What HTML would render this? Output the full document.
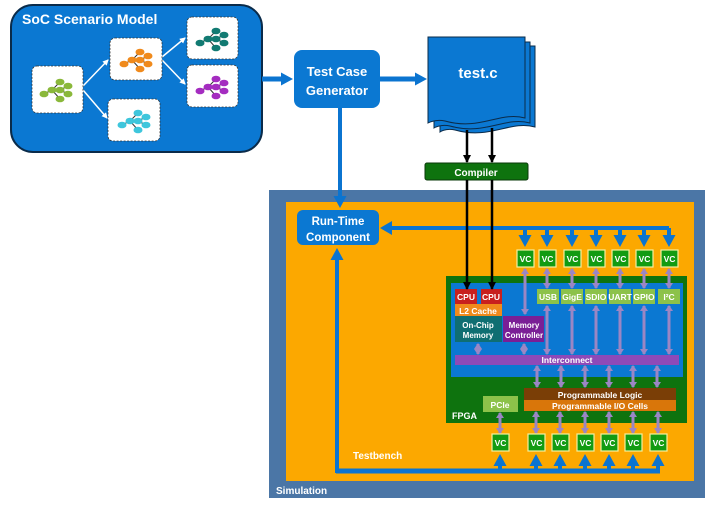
<!DOCTYPE html>
<html><head><meta charset="utf-8"><style>
html,body{margin:0;padding:0;background:#fff;}
svg{display:block;font-family:"Liberation Sans",sans-serif;font-weight:bold;}
</style></head><body>
<svg width="709" height="508" viewBox="0 0 709 508" xmlns="http://www.w3.org/2000/svg">
<defs>
<marker id="ab" markerUnits="userSpaceOnUse" markerWidth="12" markerHeight="13" refX="3" refY="6.5" orient="auto"><path d="M0,0 L12,6.5 L0,13 z" fill="#0b74d0"/></marker>
<marker id="aw" markerUnits="userSpaceOnUse" markerWidth="6" markerHeight="6" refX="5" refY="3" orient="auto"><path d="M0,0 L6,3 L0,6 z" fill="#fff"/></marker>
<marker id="ak" markerUnits="userSpaceOnUse" markerWidth="8" markerHeight="8" refX="7" refY="4" orient="auto"><path d="M0,0 L8,4 L0,8 z" fill="#000"/></marker>
<marker id="ap" markerUnits="userSpaceOnUse" markerWidth="6" markerHeight="8" refX="5" refY="4" orient="auto"><path d="M0,0 L6,4 L0,8 z" fill="#9b86c4"/></marker>
<marker id="ap0" markerUnits="userSpaceOnUse" markerWidth="6" markerHeight="8" refX="1" refY="4" orient="auto"><path d="M6,0 L0,4 L6,8 z" fill="#9b86c4"/></marker>
<g id="tree"><path d="M-12,4 L-4,0 L4,-8 M-4,0 L4,0 L12,-4 M4,0 L12,4 M-4,0 L4,9" stroke="#333" stroke-width="1" fill="none"/>
<ellipse cx="-12" cy="4" rx="4.5" ry="3.3"/><ellipse cx="-4" cy="0" rx="4.5" ry="3.3"/><ellipse cx="4" cy="-8" rx="4.5" ry="3.3"/><ellipse cx="4" cy="0" rx="4.5" ry="3.3"/><ellipse cx="12" cy="-4" rx="4.5" ry="3.3"/><ellipse cx="12" cy="4" rx="4.5" ry="3.3"/><ellipse cx="4" cy="9" rx="4.5" ry="3.3"/></g>
</defs>

<rect x="11" y="5" width="251" height="147" rx="22" fill="#0b78d2" stroke="#0a2b4a" stroke-width="2"/>
<text x="22" y="24" fill="#fff" font-size="14">SoC Scenario Model</text>
<g stroke="#fff" stroke-width="1.5" fill="none" marker-end="url(#aw)">
<line x1="83" y1="86" x2="108" y2="60"/><line x1="83" y1="90" x2="107" y2="118"/>
<line x1="162" y1="57" x2="185" y2="38"/><line x1="162" y1="60" x2="185" y2="84"/>
</g>
<g fill="#fff" stroke="#333" stroke-width="0.8" stroke-dasharray="2,1.5">
<rect x="32" y="66" width="51" height="47" rx="5"/><rect x="110" y="38" width="52" height="42" rx="5"/>
<rect x="108" y="99" width="52" height="42" rx="5"/><rect x="187" y="17" width="51" height="42" rx="5"/>
<rect x="187" y="65" width="51" height="42" rx="5"/></g>
<use href="#tree" x="56" y="90" fill="#8ab83a"/>
<use href="#tree" x="136" y="60" fill="#f08a1c"/>
<use href="#tree" x="134" y="121" fill="#3ec6dc"/>
<use href="#tree" x="212" y="39" fill="#117a72"/>
<use href="#tree" x="212" y="87" fill="#a42cc0"/>

<line x1="262" y1="79" x2="284" y2="79" stroke="#0b74d0" stroke-width="5" marker-end="url(#ab)"/>
<line x1="380" y1="79" x2="418" y2="79" stroke="#0b74d0" stroke-width="5" marker-end="url(#ab)"/>
<rect x="294" y="50" width="86" height="58" rx="8" fill="#0b78d2"/>
<text x="337" y="76" fill="#fff" font-size="13" text-anchor="middle">Test Case</text>
<text x="337" y="95" fill="#fff" font-size="13" text-anchor="middle">Generator</text>

<path d="M440,46 H535 V127 C510,120 490,140 455,130 C445,128 440,132 440,132 Z" fill="#0b78d2" stroke="#0a2b4a" stroke-width="1"/>
<path d="M434,42 H530 V123 C505,116 485,136 450,126 C440,124 434,128 434,128 Z" fill="#0b78d2" stroke="#0a2b4a" stroke-width="1"/>
<path d="M428,37 H525 V118 C500,111 480,131 445,121 C435,119 428,123 428,123 Z" fill="#0b78d2" stroke="#0a2b4a" stroke-width="1"/>
<text x="478" y="78" fill="#fff" font-size="15" text-anchor="middle">test.c</text>

<rect x="269" y="190" width="436" height="308" fill="#4b76a6"/>
<rect x="286" y="202" width="408" height="279" fill="#fca800"/>
<text x="276" y="494" fill="#fff" font-size="10">Simulation</text>
<text x="353" y="459" fill="#fff" font-size="10">Testbench</text>

<line x1="340" y1="108" x2="340" y2="199" stroke="#0b74d0" stroke-width="4" marker-end="url(#ab)"/>

<rect x="425" y="163" width="103" height="17" rx="2" fill="#0e730e" stroke="#0a3a0a"/>
<text x="476" y="176" fill="#fff" font-size="10" text-anchor="middle">Compiler</text>

<rect x="297" y="210" width="82" height="35" rx="6" fill="#0b78d2"/>
<text x="338" y="225" fill="#fff" font-size="11.5" text-anchor="middle">Run-Time</text>
<text x="338" y="241" fill="#fff" font-size="11.5" text-anchor="middle">Component</text>

<path d="M387,228 H669" stroke="#0b74d0" stroke-width="4" fill="none"/>
<path d="M392,221 L380,228 L392,235 Z" fill="#0b74d0"/>
<g stroke="#0b74d0" stroke-width="4" marker-end="url(#ab)">
<line x1="525" y1="228" x2="525" y2="238"/><line x1="547" y1="228" x2="547" y2="238"/><line x1="572" y1="228" x2="572" y2="238"/><line x1="596" y1="228" x2="596" y2="238"/><line x1="620" y1="228" x2="620" y2="238"/><line x1="644" y1="228" x2="644" y2="238"/><line x1="669" y1="228" x2="669" y2="238"/>
</g>

<path d="M336,471 H660" stroke="#0b74d0" stroke-width="5" fill="none"/>
<line x1="337" y1="473" x2="337" y2="257" stroke="#0b74d0" stroke-width="4" marker-end="url(#ab)"/>
<g stroke="#0b74d0" stroke-width="4" marker-end="url(#ab)">
<line x1="500" y1="471" x2="500" y2="463"/><line x1="536" y1="471" x2="536" y2="463"/><line x1="560" y1="471" x2="560" y2="463"/><line x1="585" y1="471" x2="585" y2="463"/><line x1="609" y1="471" x2="609" y2="463"/><line x1="633" y1="471" x2="633" y2="463"/><line x1="658" y1="471" x2="658" y2="463"/>
</g>

<rect x="446" y="276" width="241" height="147" fill="#0e730e"/>
<rect x="451" y="283" width="232" height="94" fill="#0b78d2"/>
<text x="452" y="419" fill="#fff" font-size="9">FPGA</text>
<rect x="455" y="289" width="22" height="15" fill="#c8201e"/><rect x="481" y="289" width="21" height="15" fill="#c8201e"/>
<text x="466" y="300" fill="#fff" font-size="8.5" text-anchor="middle">CPU</text><text x="491" y="300" fill="#fff" font-size="8.5" text-anchor="middle">CPU</text>
<rect x="455" y="304" width="47" height="12" fill="#f08a1c"/><text x="478" y="314" fill="#fff" font-size="8.5" text-anchor="middle">L2 Cache</text>
<rect x="455" y="316" width="47" height="26" fill="#0f6e72"/><text x="478" y="328" fill="#fff" font-size="8" text-anchor="middle">On-Chip</text><text x="478" y="338" fill="#fff" font-size="8" text-anchor="middle">Memory</text>
<rect x="503" y="316" width="41" height="26" fill="#7a1f96"/><text x="524" y="328" fill="#fff" font-size="8" text-anchor="middle">Memory</text><text x="524" y="338" fill="#fff" font-size="8" text-anchor="middle">Controller</text>
<g fill="#8cc24a">
<rect x="537" y="289" width="22" height="15"/><rect x="561" y="289" width="22" height="15"/><rect x="585" y="289" width="22" height="15"/><rect x="609" y="289" width="22" height="15"/><rect x="633" y="289" width="22" height="15"/><rect x="658" y="289" width="22" height="15"/>
</g>
<g fill="#fff" font-size="8.5" text-anchor="middle">
<text x="548" y="300">USB</text><text x="572" y="300">GigE</text><text x="596" y="300">SDIO</text><text x="620" y="300">UART</text><text x="644" y="300">GPIO</text><text x="669" y="300">I²C</text></g>
<rect x="455" y="355" width="224" height="10" fill="#8e4ab8"/>
<text x="567" y="363" fill="#fff" font-size="8.5" text-anchor="middle">Interconnect</text>
<rect x="524" y="388" width="152" height="12" fill="#7a3e06"/>
<rect x="524" y="400" width="152" height="11" fill="#d9760a"/>
<text x="600" y="398" fill="#fff" font-size="8.5" text-anchor="middle">Programmable Logic</text>
<text x="600" y="409" fill="#fff" font-size="8.5" text-anchor="middle">Programmable I/O Cells</text>
<rect x="483" y="396" width="35" height="16" fill="#8cc24a"/><text x="500" y="408" fill="#fff" font-size="8.5" text-anchor="middle">PCIe</text>

<g stroke="#000" stroke-width="2.5" marker-end="url(#ak)">
<line x1="467" y1="130" x2="467" y2="162"/><line x1="492" y1="128" x2="492" y2="162"/>
<line x1="467" y1="180" x2="467" y2="289"/><line x1="492" y1="180" x2="492" y2="289"/>
</g>

<g stroke="#9b86c4" stroke-width="3" marker-end="url(#ap)" marker-start="url(#ap0)">
<line x1="525" y1="269" x2="525" y2="314"/>
<line x1="547" y1="269" x2="547" y2="288"/><line x1="572" y1="269" x2="572" y2="288"/><line x1="596" y1="269" x2="596" y2="288"/><line x1="620" y1="269" x2="620" y2="288"/><line x1="644" y1="269" x2="644" y2="288"/><line x1="669" y1="269" x2="669" y2="288"/>
<line x1="547" y1="306" x2="547" y2="354"/><line x1="572" y1="306" x2="572" y2="354"/><line x1="596" y1="306" x2="596" y2="354"/><line x1="620" y1="306" x2="620" y2="354"/><line x1="644" y1="306" x2="644" y2="354"/><line x1="669" y1="306" x2="669" y2="354"/>
<line x1="478" y1="344" x2="478" y2="354"/><line x1="524" y1="344" x2="524" y2="354"/>
<line x1="537" y1="366" x2="537" y2="387"/><line x1="561" y1="366" x2="561" y2="387"/><line x1="585" y1="366" x2="585" y2="387"/><line x1="609" y1="366" x2="609" y2="387"/><line x1="633" y1="366" x2="633" y2="387"/><line x1="657" y1="366" x2="657" y2="387"/>
<line x1="500" y1="413" x2="500" y2="433"/>
<line x1="536" y1="412" x2="536" y2="433"/><line x1="560" y1="412" x2="560" y2="433"/><line x1="585" y1="412" x2="585" y2="433"/><line x1="609" y1="412" x2="609" y2="433"/><line x1="633" y1="412" x2="633" y2="433"/><line x1="658" y1="412" x2="658" y2="433"/>
</g>

<g fill="#129b12" stroke="#f4f0a0" stroke-width="1.2">
<rect x="517" y="250" width="17" height="17"/><rect x="539" y="250" width="17" height="17"/><rect x="564" y="250" width="17" height="17"/><rect x="588" y="250" width="17" height="17"/><rect x="612" y="250" width="17" height="17"/><rect x="636" y="250" width="17" height="17"/><rect x="661" y="250" width="17" height="17"/>
<rect x="492" y="434" width="17" height="17"/><rect x="528" y="434" width="17" height="17"/><rect x="552" y="434" width="17" height="17"/><rect x="577" y="434" width="17" height="17"/><rect x="601" y="434" width="17" height="17"/><rect x="625" y="434" width="17" height="17"/><rect x="650" y="434" width="17" height="17"/>
</g>
<g fill="#fff" font-size="8.5" text-anchor="middle">
<text x="525.5" y="262">VC</text><text x="547.5" y="262">VC</text><text x="572.5" y="262">VC</text><text x="596.5" y="262">VC</text><text x="620.5" y="262">VC</text><text x="644.5" y="262">VC</text><text x="669.5" y="262">VC</text>
<text x="500.5" y="446">VC</text><text x="536.5" y="446">VC</text><text x="560.5" y="446">VC</text><text x="585.5" y="446">VC</text><text x="609.5" y="446">VC</text><text x="633.5" y="446">VC</text><text x="658.5" y="446">VC</text>
</g>
</svg>
</body></html>
